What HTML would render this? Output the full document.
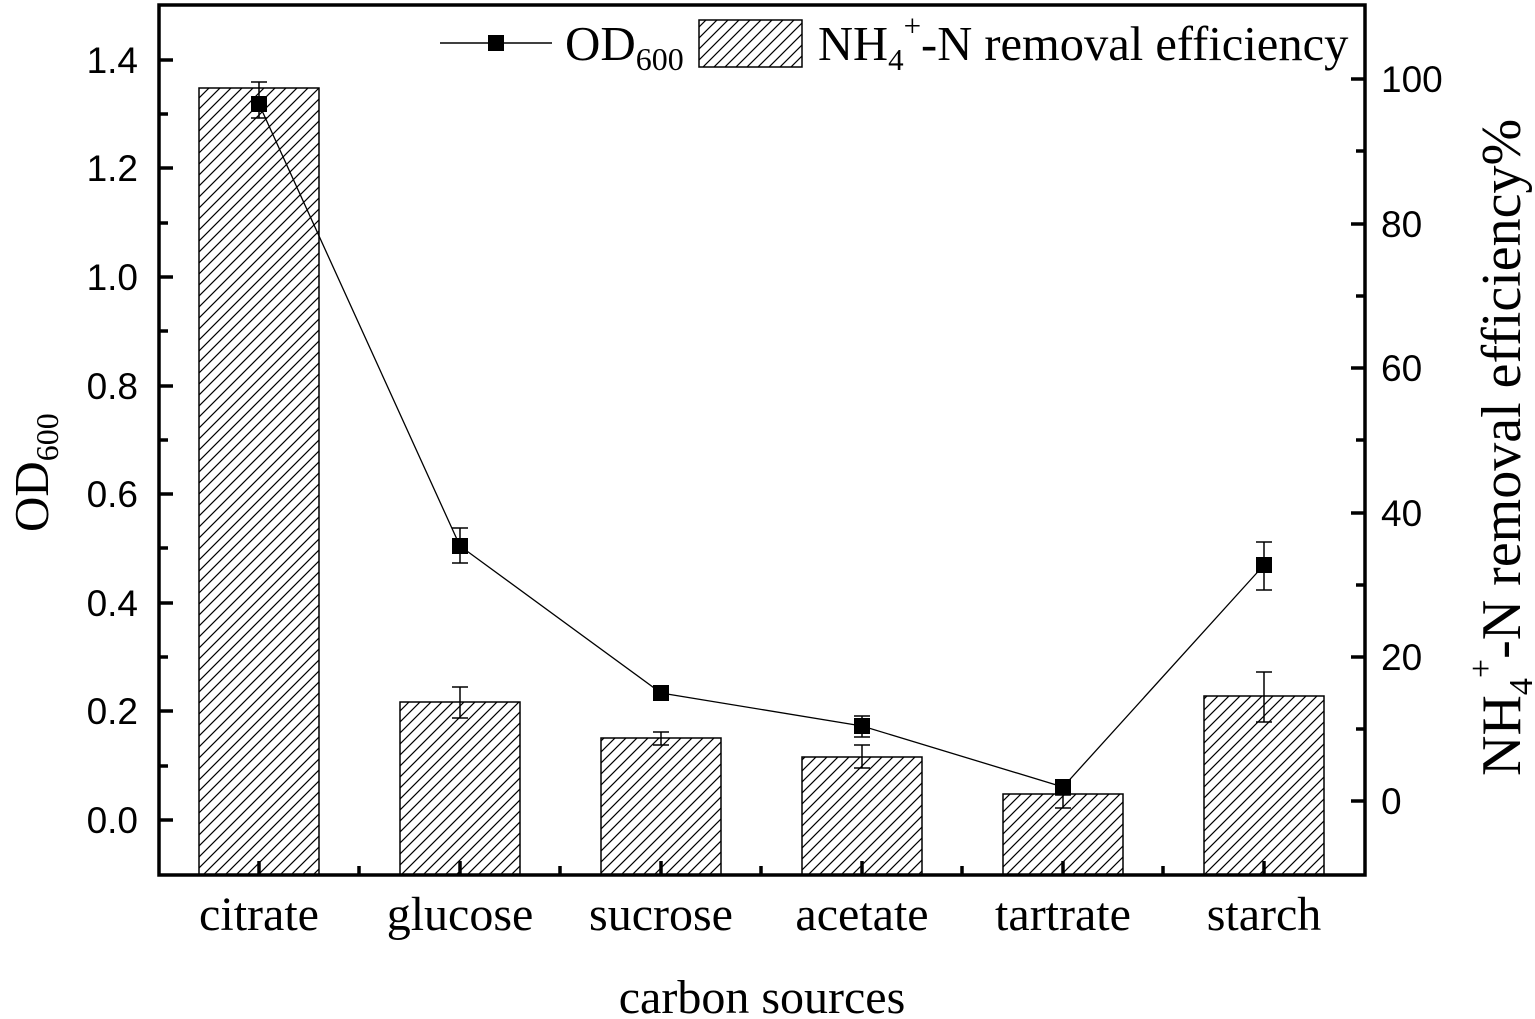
<!DOCTYPE html>
<html><head><meta charset="utf-8"><style>body{margin:0;background:#fff}svg{display:block}</style></head>
<body>
<svg width="1535" height="1019" viewBox="0 0 1535 1019" xmlns="http://www.w3.org/2000/svg">
<defs>
<pattern id="h" patternUnits="userSpaceOnUse" width="11" height="11">
<path d="M-1,12 L12,-1 M-3,3 L3,-3 M8,14 L14,8" stroke="#000" stroke-width="1.2"/>
</pattern>
</defs>
<g stroke="#000" stroke-width="1.5">
<rect x="199" y="88" width="120" height="787" fill="url(#h)"/>
<rect x="400" y="702" width="120" height="173" fill="url(#h)"/>
<rect x="601" y="738" width="120" height="137" fill="url(#h)"/>
<rect x="802" y="757" width="120" height="118" fill="url(#h)"/>
<rect x="1003" y="794" width="120" height="81" fill="url(#h)"/>
<rect x="1204" y="696" width="120" height="179" fill="url(#h)"/>
</g>
<g stroke="#000" stroke-width="1.5" fill="none">
<path d="M460 687V718M452 687H468M452 718H468"/>
<path d="M661 732V745M653 732H669M653 745H669"/>
<path d="M862 745V768M854 745H870M854 768H870"/>
<path d="M1063 780V808M1055 780H1071M1055 808H1071"/>
<path d="M1264 672V722M1256 672H1272M1256 722H1272"/>
<path d="M259 82V118M251 82H267M251 118H267"/>
<path d="M460 528V563M452 528H468M452 563H468"/>
<path d="M661 686V700M653 686H669M653 700H669"/>
<path d="M862 716V737M854 716H870M854 737H870"/>
<path d="M1063 780V795M1055 780H1071M1055 795H1071"/>
<path d="M1264 542V590M1256 542H1272M1256 590H1272"/>
<polyline points="259,104 460,546 661,693 862,726 1063,787 1264,565" stroke-width="1.3"/>
</g>
<g fill="#000">
<rect x="251" y="96" width="16" height="16"/><rect x="452" y="538" width="16" height="16"/>
<rect x="653" y="685" width="16" height="16"/><rect x="854" y="718" width="16" height="16"/>
<rect x="1055" y="779" width="16" height="16"/><rect x="1256" y="557" width="16" height="16"/>
</g>
<rect x="159" y="5" width="1206" height="870" fill="none" stroke="#000" stroke-width="3.5"/>
<g stroke="#000" stroke-width="3.5">
<path d="M159 60h14M159 168h14M159 277h14M159 386h14M159 494h14M159 603h14M159 711h14M159 820h14"/>
<path d="M159 114h9M159 223h9M159 331h9M159 440h9M159 548h9M159 657h9M159 766h9"/>
<path d="M1365 79h-14M1365 224h-14M1365 368h-14M1365 513h-14M1365 657h-14M1365 801h-14"/>
<path d="M1365 151h-9M1365 296h-9M1365 440h-9M1365 585h-9M1365 729h-9"/>
<path d="M259 875v-14M460 875v-14M661 875v-14M862 875v-14M1063 875v-14M1264 875v-14"/>
<path d="M359 875v-9M560 875v-9M761 875v-9M962 875v-9M1163 875v-9"/>
</g>
<g font-family="Liberation Sans, sans-serif" font-size="37" text-anchor="end">
<text x="138" y="73">1.4</text><text x="138" y="181">1.2</text><text x="138" y="290">1.0</text>
<text x="138" y="399">0.8</text><text x="138" y="507">0.6</text><text x="138" y="616">0.4</text>
<text x="138" y="724">0.2</text><text x="138" y="833">0.0</text>
</g>
<g font-family="Liberation Sans, sans-serif" font-size="37">
<text x="1381" y="92">100</text><text x="1381" y="237">80</text><text x="1381" y="381">60</text>
<text x="1381" y="526">40</text><text x="1381" y="670">20</text><text x="1381" y="814">0</text>
</g>
<g font-family="Liberation Serif, serif" font-size="48" text-anchor="middle">
<text x="259" y="930">citrate</text><text x="460" y="930">glucose</text><text x="661" y="930">sucrose</text>
<text x="862" y="930">acetate</text><text x="1063" y="930">tartrate</text><text x="1264" y="930">starch</text>
<text x="762" y="1013">carbon sources</text>
</g>
<text transform="translate(48,532) rotate(-90)" font-family="Liberation Serif, serif" font-size="49">OD<tspan font-size="32" dy="10">600</tspan></text>
<text transform="translate(1520,776) rotate(-90)" font-family="Liberation Serif, serif" font-size="56">NH<tspan font-size="34" dy="12">4</tspan><tspan font-size="34" dy="-40">+</tspan><tspan dy="28">-N removal efficiency%</tspan></text>
<g>
<path d="M440 43H552" stroke="#000" stroke-width="1.5"/>
<rect x="488" y="35" width="16" height="16"/>
<text x="565" y="60" font-family="Liberation Serif, serif" font-size="49">OD<tspan font-size="32" dy="10">600</tspan></text>
<rect x="699" y="20" width="103" height="47" fill="url(#h)" stroke="#000" stroke-width="1.5"/>
<text x="818" y="60" font-family="Liberation Serif, serif" font-size="48.5">NH<tspan font-size="31" dy="10">4</tspan><tspan font-size="31" dy="-34">+</tspan><tspan dy="24">-N removal efficiency</tspan></text>
</g>
</svg>
</body></html>
